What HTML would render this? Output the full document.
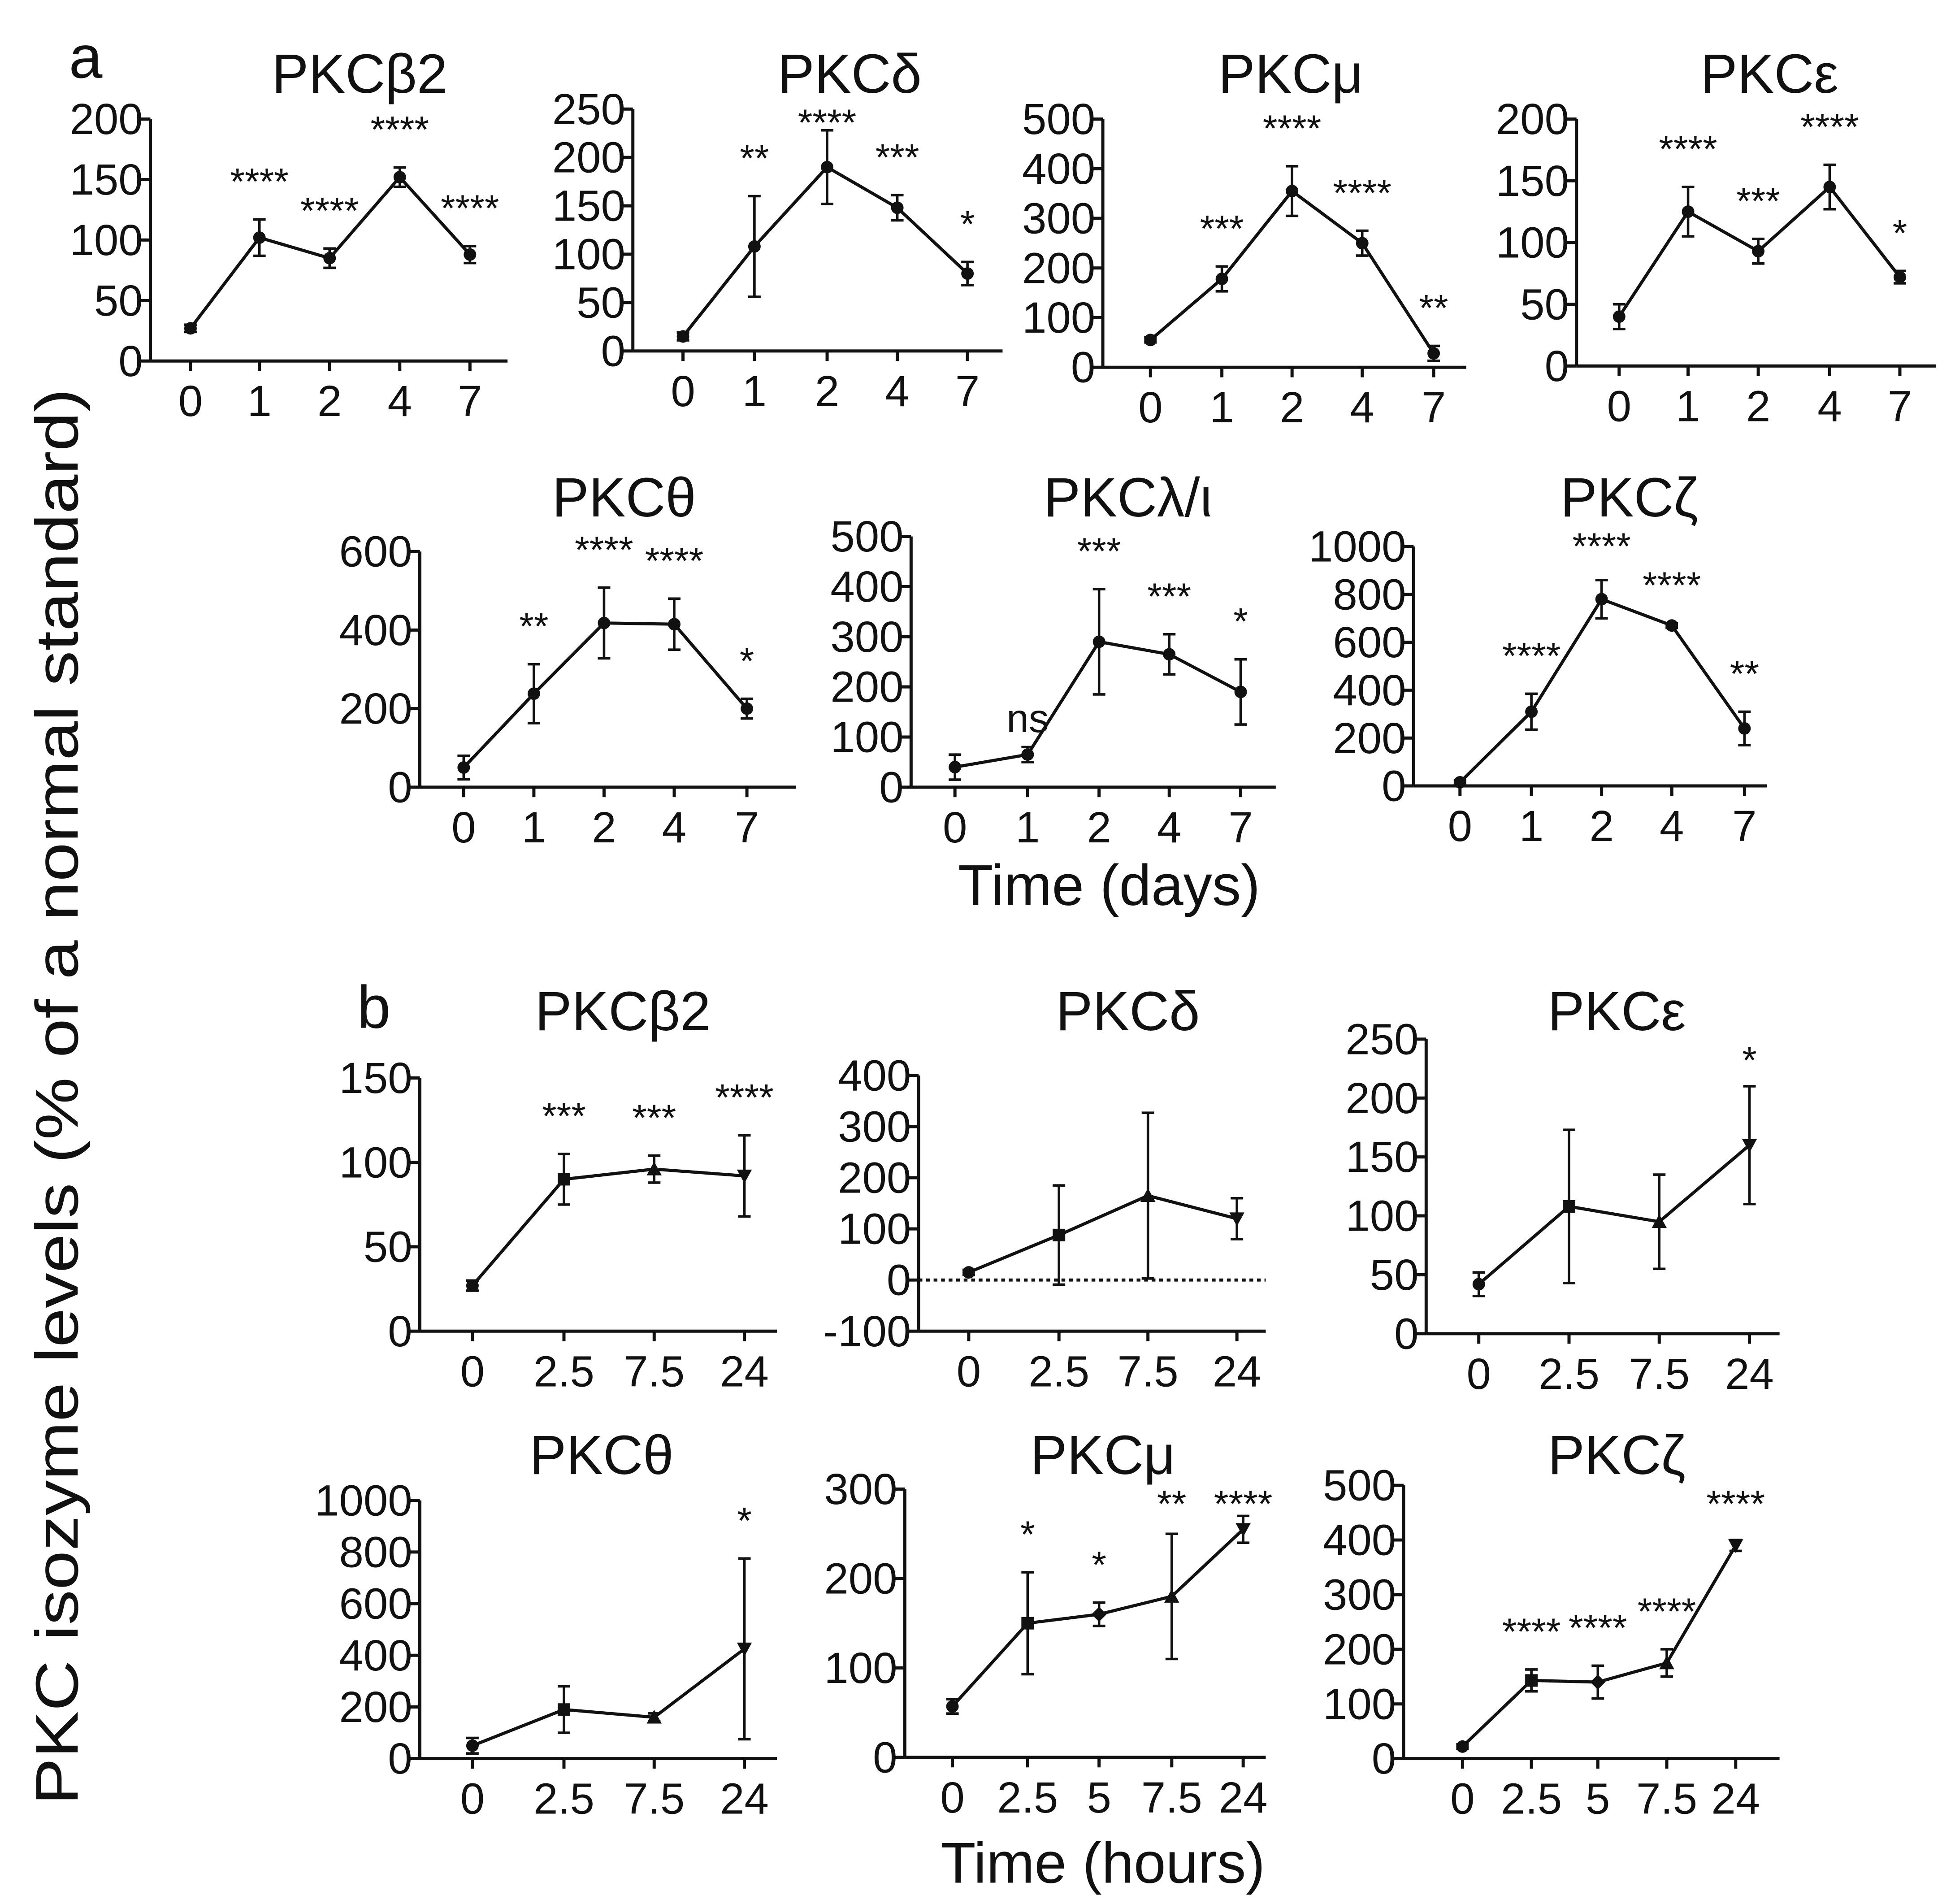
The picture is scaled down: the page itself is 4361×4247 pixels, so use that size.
<!DOCTYPE html>
<html><head><meta charset="utf-8">
<style>
html,body{margin:0;padding:0;background:#fff;}
svg{display:block;}
text{font-family:"Liberation Sans",sans-serif;fill:#111;}
</style></head>
<body>
<svg id="fig" width="4361" height="4247" viewBox="0 0 1560 1519" preserveAspectRatio="none" xmlns="http://www.w3.org/2000/svg">
<text x="55" y="62" font-size="48">a</text>
<text x="285" y="820" font-size="48">b</text>
<text transform="translate(62,875) rotate(-90)" text-anchor="middle" font-size="48" textLength="1130" lengthAdjust="spacingAndGlyphs">PKC isozyme levels (% of a normal standard)</text>
<text x="885" y="722" text-anchor="middle" font-size="46">Time (days)</text>
<text x="880" y="1502" text-anchor="middle" font-size="46">Time (hours)</text>
<g id="panels"></g>
</svg>
<script>
// ---- data arrays ----
const catsDays = ['0','1','2','4','7'];
const catsHours4 = ['0','2.5','7.5','24'];
const catsHours5 = ['0','2.5','5','7.5','24'];

const vals_a1 = [27,102,85,152,88];   const errs_a1 = [3,15,8,8,7];
const vals_a2 = [15,108,190,148,80];  const errs_a2 = [4,52,38,13,12];
const vals_a3 = [55,178,355,250,28];  const errs_a3 = [5,25,50,25,15];
const vals_a4 = [40,125,93,145,72];   const errs_a4 = [10,20,10,18,5];
const vals_a5 = [50,238,418,415,200]; const errs_a5 = [30,75,90,65,25];
const vals_a6 = [40,65,290,265,190];  const errs_a6 = [25,15,105,40,65];
const vals_a7 = [15,310,780,670,240]; const errs_a7 = [8,75,80,10,70];
const vals_b1 = [27,90,96,92];        const errs_b1 = [3,15,8,24];
const vals_b2 = [15,88,165,120];      const errs_b2 = [5,97,162,40];
const vals_b3 = [42,108,95,160];      const errs_b3 = [10,65,40,50];
const vals_b4 = [50,190,160,425];     const errs_b4 = [30,90,15,350];
const vals_b5 = [57,150,160,180,255]; const errs_b5 = [8,57,13,70,15];
const vals_b6 = [22,143,140,175,390]; const errs_b6 = [4,20,30,25,10];

const ticks_a1=[0,50,100,150,200], ticks_a2=[0,50,100,150,200,250], ticks_a3=[0,100,200,300,400,500];
const ticks_a4=[0,50,100,150,200], ticks_a5=[0,200,400,600], ticks_a6=[0,100,200,300,400,500];
const ticks_a7=[0,200,400,600,800,1000], ticks_b1=[0,50,100,150], ticks_b2=[-100,0,100,200,300,400];
const ticks_b3=[0,50,100,150,200,250], ticks_b4=[0,200,400,600,800,1000], ticks_b5=[0,100,200,300], ticks_b6=[0,100,200,300,400,500];

const stars_a1=['','****','****','****','****'], stars_a2=['','**','****','***','*'], stars_a3=['','***','****','****','**'];
const stars_a4=['','****','***','****','*'], stars_a5=['','**','****','****','*'], stars_a6=['','ns','***','***','*'];
const stars_a7=['','****','****','****','**'], stars_b1=['','***','***','****'], stars_b2=['','','',''];
const stars_b3=['','','','*'], stars_b4=['','','','*'], stars_b5=['','*','*','**','****'], stars_b6=['','****','****','****','****'];

const titles = ['PKCβ2','PKCδ','PKCμ','PKCε','PKCθ','PKCλ/ι','PKCζ','PKCβ2','PKCδ','PKCε','PKCθ','PKCμ','PKCζ'];

// ---- layout (pixels) ----
const layout = [
 {id:'a1',ax:120,x1:405,yTop:95,yBot:288,cx:[152,207,263,319,375],ty:74,tc:287,cats:catsDays,v:vals_a1,e:errs_a1,t:ticks_a1,s:stars_a1,m:'c'},
 {id:'a2',ax:505,x1:800,yTop:87,yBot:280,cx:[545,602,660,716,772],ty:74,tc:678,cats:catsDays,v:vals_a2,e:errs_a2,t:ticks_a2,s:stars_a2,m:'c'},
 {id:'a3',ax:880,x1:1170,yTop:95,yBot:293,cx:[918,975,1031,1087,1144],ty:74,tc:1030,cats:catsDays,v:vals_a3,e:errs_a3,t:ticks_a3,s:stars_a3,m:'c'},
 {id:'a4',ax:1258,x1:1545,yTop:95,yBot:292,cx:[1292,1347,1403,1460,1516],ty:74,tc:1412,cats:catsDays,v:vals_a4,e:errs_a4,t:ticks_a4,s:stars_a4,m:'c'},
 {id:'a5',ax:335,x1:635,yTop:440,yBot:628,cx:[370,426,482,538,596],ty:412,tc:498,cats:catsDays,v:vals_a5,e:errs_a5,t:ticks_a5,s:stars_a5,m:'c'},
 {id:'a6',ax:727,x1:1018,yTop:428,yBot:628,cx:[762,820,877,933,990],ty:412,tc:900,cats:catsDays,v:vals_a6,e:errs_a6,t:ticks_a6,s:stars_a6,m:'c'},
 {id:'a7',ax:1128,x1:1410,yTop:436,yBot:627,cx:[1165,1222,1278,1334,1392],ty:412,tc:1300,cats:catsDays,v:vals_a7,e:errs_a7,t:ticks_a7,s:stars_a7,m:'c'},
 {id:'b1',ax:335,x1:620,yTop:860,yBot:1062,cx:[377,450,522,594],ty:822,tc:497,cats:catsHours4,v:vals_b1,e:errs_b1,t:ticks_b1,s:stars_b1,m:'b'},
 {id:'b2',ax:733,x1:1010,yTop:858,yBot:1062,cx:[773,845,916,987],ty:822,tc:900,cats:catsHours4,v:vals_b2,e:errs_b2,t:ticks_b2,s:stars_b2,m:'b',dot:true},
 {id:'b3',ax:1138,x1:1420,yTop:829,yBot:1064,cx:[1180,1252,1324,1396],ty:822,tc:1290,cats:catsHours4,v:vals_b3,e:errs_b3,t:ticks_b3,s:stars_b3,m:'b'},
 {id:'b4',ax:335,x1:620,yTop:1197,yBot:1403,cx:[377,450,522,594],ty:1176,tc:480,cats:catsHours4,v:vals_b4,e:errs_b4,t:ticks_b4,s:stars_b4,m:'b'},
 {id:'b5',ax:722,x1:1010,yTop:1188,yBot:1402,cx:[760,820,877,935,992],ty:1176,tc:880,cats:catsHours5,v:vals_b5,e:errs_b5,t:ticks_b5,s:stars_b5,m:'b5'},
 {id:'b6',ax:1120,x1:1420,yTop:1185,yBot:1403,cx:[1167,1222,1275,1330,1385],ty:1176,tc:1290,cats:catsHours5,v:vals_b6,e:errs_b6,t:ticks_b6,s:stars_b6,m:'b5'}
];

const NS='http://www.w3.org/2000/svg';
const root=document.getElementById('panels');
function mk(tag,attrs,parent){const el=document.createElementNS(NS,tag);for(const k in attrs)el.setAttribute(k,attrs[k]);parent.appendChild(el);return el;}

function marker(g,kind,x,y){
  let el;
  if(kind==='c') el=mk('circle',{cx:x,cy:y,r:5,fill:'#111'},g);
  else if(kind==='s') el=mk('rect',{x:x-5,y:y-5,width:10,height:10,fill:'#111'},g);
  else if(kind==='u') el=mk('polygon',{points:`${x},${y-6} ${x-6},${y+5} ${x+6},${y+5}`,fill:'#111'},g);
  else if(kind==='d') el=mk('polygon',{points:`${x},${y+6} ${x-6},${y-5} ${x+6},${y-5}`,fill:'#111'},g);
  else el=mk('polygon',{points:`${x},${y-6} ${x-6},${y} ${x},${y+6} ${x+6},${y}`,fill:'#111'},g);
  
  
}

layout.forEach((p,pi)=>{
  const g=mk('g',{},root);
  
  
  const tmin=p.t[0],tmax=p.t[p.t.length-1];
  const y=v=>p.yBot-(v-tmin)/(tmax-tmin)*(p.yBot-p.yTop);
  const x=i=>p.cx[i];
  const title=mk('text',{x:p.tc,y:p.ty,'text-anchor':'middle','font-size':44},g);
  title.textContent=titles[pi];
  
  
  const ya=mk('line',{x1:p.ax,y1:p.yTop,x2:p.ax,y2:p.yBot,stroke:'#111','stroke-width':2.5},g);
  
  
  const xa=mk('line',{x1:p.ax,y1:p.yBot,x2:p.x1,y2:p.yBot,stroke:'#111','stroke-width':2.5},g);
  
  
  p.t.forEach(t=>{
    mk('line',{x1:p.ax-8,y1:y(t),x2:p.ax,y2:y(t),stroke:'#111','stroke-width':2.5},g);
    const tl=mk('text',{x:p.ax-6,y:y(t)+12,'text-anchor':'end','font-size':35},g);
    tl.textContent=t;
    
    
  });
  p.cats.forEach((c,i)=>{
    mk('line',{x1:x(i),y1:p.yBot,x2:x(i),y2:p.yBot+8,stroke:'#111','stroke-width':2.5},g);
    const tl=mk('text',{x:x(i),y:p.yBot+44,'text-anchor':'middle','font-size':35},g);
    tl.textContent=c;
    
    
  });
  if(p.dot){
    const dl=mk('line',{x1:p.ax,y1:y(0),x2:p.x1,y2:y(0),stroke:'#111','stroke-width':2.5,'stroke-dasharray':'3,3'},g);
    
    
  }
  const pts=p.v.map((v,i)=>x(i)+','+y(v)).join(' ');
  const line=mk('polyline',{points:pts,fill:'none',stroke:'#111','stroke-width':2.5},g);
  
  
  const mks = p.m==='c'?['c','c','c','c','c']:(p.m==='b'?['c','s','u','d']:['c','s','x','u','d']);
  p.v.forEach((v,i)=>{
    const e=p.e[i];
    const eb=mk('path',{d:`M${x(i)},${y(v+e)}V${y(v-e)}M${x(i)-5},${y(v+e)}h10M${x(i)-5},${y(v-e)}h10`,stroke:'#111','stroke-width':2,fill:'none'},g);
    
    
    marker(g,mks[i],x(i),y(v));
    if(p.s[i]){
      const sy=Math.max(y(v+e)-(p.s[i]==='ns'?12:20), p.ty+34);
      const st=mk('text',{x:x(i),y:sy,'text-anchor':'middle','font-size':p.s[i]==='ns'?32:30},g);
      st.textContent=p.s[i];
      
      
    }
  });
});
</script>
</body></html>
